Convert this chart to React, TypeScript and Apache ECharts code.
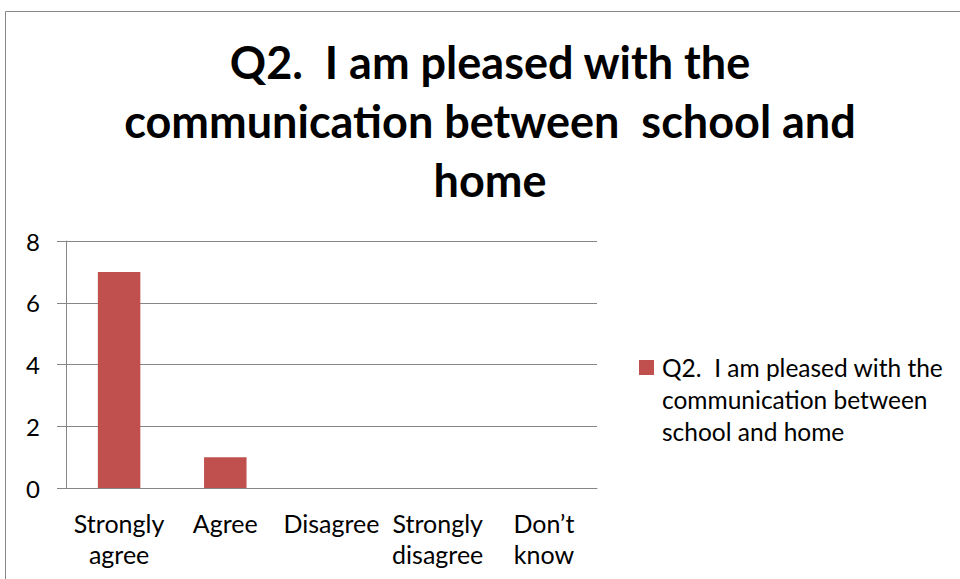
import React, { useEffect, useRef } from "react";
import * as echarts from "echarts";

const categories = ["Strongly\nagree", "Agree", "Disagree", "Strongly\ndisagree", "Don\u2019t\nknow"];
const seriesName = "Q2.  I am pleased with the communication between school and home";
const values = [7, 1, 0, 0, 0];
const titleText = "Q2.  I am pleased with the\ncommunication between  school and\nhome";
const legendText = "Q2.  I am pleased with the\ncommunication between\nschool and home";

const FONT = "Lato";
const GRAY = "#868686";
const LEGEND_ICON = "path://M0,0L0,0ZM18,96L18,96ZM0,8.5L15,8.5L15,23.5L0,23.5Z";

export default function App() {
  const ref = useRef<HTMLDivElement>(null);
  useEffect(() => {
    if (!ref.current) return;
    const chart = echarts.init(ref.current, undefined, { renderer: "svg" });
    chart.setOption({
      animation: false,
      backgroundColor: "#ffffff",
      textStyle: { fontFamily: FONT },
      title: {
        text: titleText,
        left: 490,
        textAlign: "center",
        top: 32,
        padding: 0,
        textStyle: {
          fontFamily: FONT,
          fontSize: 45,
          fontWeight: "bold",
          lineHeight: 59,
          color: "#000",
        },
      },
      graphic: [
        {
          type: "rect",
          shape: { x: 5.5, y: 11.5, width: 1000, height: 700 },
          style: { fill: "none", stroke: GRAY, lineWidth: 1 },
          silent: true,
        },
      ],
      legend: {
        left: 639,
        top: 351.5,
        padding: 0,
        itemWidth: 18,
        itemHeight: 96,
        icon: LEGEND_ICON,
        formatter: () => legendText,
        textStyle: {
          fontFamily: FONT,
          fontSize: 24.5,
          lineHeight: 32,
          color: "#000",
        },
      },
      grid: { left: 66, right: 363, top: 241, bottom: 91 },
      xAxis: {
        type: "category",
        data: categories,
        axisLine: { lineStyle: { color: GRAY } },
        axisTick: { length: 8, lineStyle: { color: GRAY } },
        axisLabel: {
          fontFamily: FONT,
          fontSize: 25,
          lineHeight: 31,
          color: "#000",
          margin: 19,
          interval: 0,
        },
      },
      yAxis: {
        type: "value",
        min: 0,
        max: 8,
        interval: 2,
        axisLine: { show: true, lineStyle: { color: GRAY } },
        axisTick: { show: true, length: 9, lineStyle: { color: GRAY } },
        splitLine: { lineStyle: { color: GRAY } },
        axisLabel: { fontFamily: FONT, fontSize: 24, color: "#000", margin: 26 },
      },
      series: [
        {
          name: seriesName,
          type: "bar",
          data: values,
          barWidth: "40%",
          itemStyle: { color: "#C0504D" },
        },
      ],
    });
    return () => chart.dispose();
  }, []);
  return (
    <div
      ref={ref}
      style={{ position: "fixed", left: 0, top: 0, width: 960, height: 579 }}
    />
  );
}
